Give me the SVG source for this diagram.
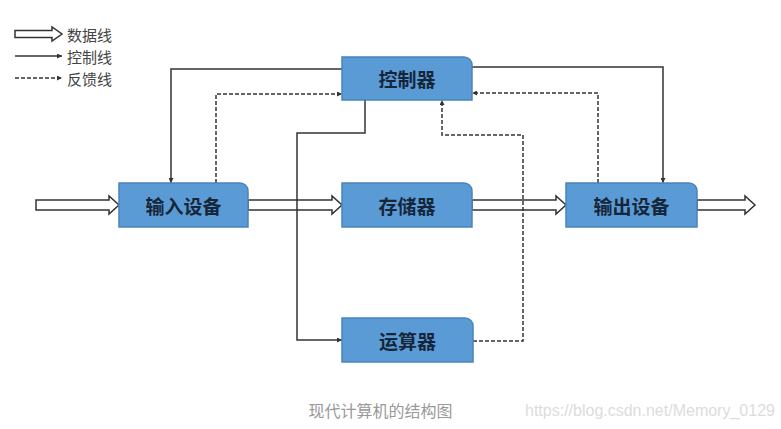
<svg xmlns="http://www.w3.org/2000/svg" width="781" height="429" viewBox="0 0 781 429">
<style>
.box{fill:#5b9bd5;stroke:#4a84bb;stroke-width:1.5}
.lbl{font-family:"Noto Sans CJK SC","Noto Sans",sans-serif;font-weight:bold;font-size:19px;fill:#16263a;text-anchor:middle;dominant-baseline:central}
.data{fill:#fff;stroke:#333;stroke-width:1.5;stroke-linejoin:miter}
.ctl{fill:none;stroke:#333;stroke-width:1.5;marker-end:url(#ah)}
.fb{fill:none;stroke:#333;stroke-width:1.5;stroke-dasharray:4 2;marker-end:url(#ah)}
.leg{font-family:"Noto Sans CJK SC","Noto Sans",sans-serif;font-size:15px;fill:#444;dominant-baseline:central}
</style>
<defs>
<marker id="ah" viewBox="0 0 10 10" refX="10" refY="5" markerWidth="5" markerHeight="5" orient="auto" markerUnits="userSpaceOnUse">
<path d="M0,0 L10,5 L0,10 Z" fill="#333"/>
</marker>
</defs>
<rect width="781" height="429" fill="#fff"/>
<g id="legend">
<polygon class="data" points="15,30.5 52,30.5 52,27 62,34 52,41 52,37.5 15,37.5"/>
<text class="leg" x="67" y="34">数据线</text>
<path class="ctl" d="M15,56 H62"/>
<text class="leg" x="67" y="56">控制线</text>
<path class="fb" d="M15,78 H62"/>
<text class="leg" x="67" y="78">反馈线</text>
</g>
<g id="connectors">
<polygon class="data" points="36,200 109,200 109,196 119,205 109,214 109,210 36,210"/>
<polygon class="data" points="248,200 332,200 332,196 342,205 332,214 332,210 248,210"/>
<polygon class="data" points="472,200 556,200 556,196 566,205 556,214 556,210 472,210"/>
<polygon class="data" points="697,200 745,200 745,196 755,205 745,214 745,210 697,210"/>
<path class="ctl" d="M342,69 H171 V183"/>
<path class="ctl" d="M472,67 H663 V183"/>
<path class="ctl" d="M365,100 V133 H297 V340 H342"/>
<path class="fb" d="M216,183 V94 H342"/>
<path class="fb" d="M598,183 V93 H472"/>
<path class="fb" d="M473,341 H523 V135 H442 V100"/>
</g>
<g id="controller">
<path class="box" d="M342,57 H464 A8,8 0 0 1 472,65 V100 H342 Z"/>
<text class="lbl" x="407" y="78.5">控制器</text>
</g>
<g id="input">
<path class="box" d="M119,183 H240 A8,8 0 0 1 248,191 V227 H119 Z"/>
<text class="lbl" x="183.5" y="205">输入设备</text>
</g>
<g id="memory">
<path class="box" d="M342,183 H464 A8,8 0 0 1 472,191 V227 H342 Z"/>
<text class="lbl" x="407" y="205">存储器</text>
</g>
<g id="output">
<path class="box" d="M566,183 H689 A8,8 0 0 1 697,191 V227 H566 Z"/>
<text class="lbl" x="631.5" y="205">输出设备</text>
</g>
<g id="alu">
<path class="box" d="M342,318 H465 A8,8 0 0 1 473,326 V362 H342 Z"/>
<text class="lbl" x="407.5" y="340">运算器</text>
</g>
<text x="380.5" y="410" font-family="Noto Sans CJK SC,Noto Sans,sans-serif" font-size="16" fill="#999" text-anchor="middle" dominant-baseline="central">现代计算机的结构图</text>
<text x="525" y="410" font-family="Liberation Sans,Arial,sans-serif" font-size="16" fill="#dcdcdc" dominant-baseline="central">https://blog.csdn.net/Memory_0129</text>
</svg>
